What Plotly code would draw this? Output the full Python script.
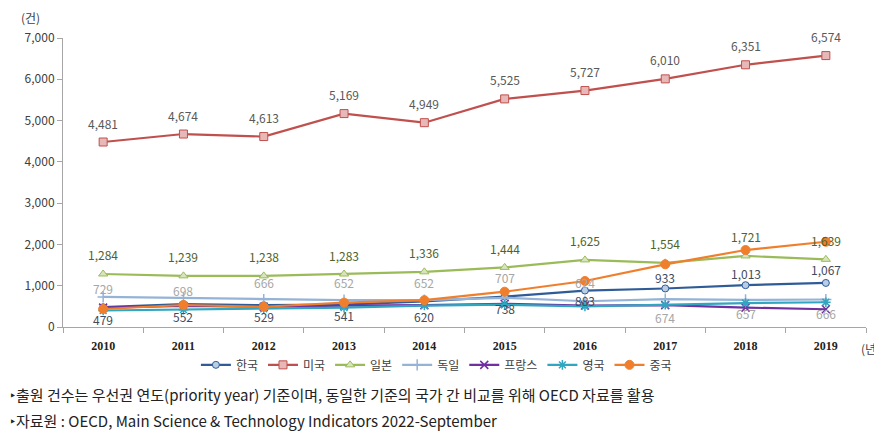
import plotly.graph_objects as go

years = ["2010", "2011", "2012", "2013", "2014", "2015", "2016", "2017", "2018", "2019"]
korea = [479, 552, 529, 541, 620, 738, 883, 933, 1013, 1067]
usa = [4481, 4674, 4613, 5169, 4949, 5525, 5727, 6010, 6351, 6574]
japan = [1284, 1239, 1238, 1283, 1336, 1444, 1625, 1554, 1721, 1639]
germany = [729, 698, 666, 652, 652, 707, 624, 674, 657, 666]
france = [470, 510, 490, 520, 530, 560, 520, 530, 470, 430]
uk = [400, 420, 440, 470, 520, 540, 500, 540, 580, 600]
china = [436, 533, 490, 590, 650, 855, 1114, 1518, 1864, 2065]
names = ["한국", "미국", "일본", "독일", "프랑스", "영국", "중국"]

FONT = "Noto Sans CJK KR"

fig = go.Figure()

def add(name, vals, color, symbol, mfill, msize, mline=1, lw=2.2):
    fig.add_trace(go.Scatter(
        x=years, y=vals, name=name, mode="lines+markers",
        line=dict(color=color, width=lw),
        marker=dict(symbol=symbol, size=msize, color=mfill,
                    line=dict(color=color, width=mline)),
    ))

add(names[0], korea, "#2F5C97", "circle", "#B9CDE5", 7)
add(names[1], usa, "#C0504D", "square", "#E6B9B8", 8)
add(names[2], japan, "#9BBB59", "triangle-up", "#D7E4BD", 8)
add(names[3], germany, "#95B3D7", "cross-thin", "#95B3D7", 8, mline=1.5)
add(names[4], france, "#7030A0", "x-thin", "#7030A0", 8, mline=1.5)
add(names[5], uk, "#31A6C0", "asterisk", "#31A6C0", 8, mline=1.5)
add(names[6], china, "#F07F2D", "circle", "#F07F2D", 9)

ann = []
def labels(vals, shifts, color):
    for i, (v, s) in enumerate(zip(vals, shifts)):
        ann.append(dict(x=i, y=v, xref="x", yref="y", text=f"{v:,}", showarrow=False, yshift=s,
                        font=dict(family=FONT, size=12, color=color)))

labels(usa, [19] * 10, "#595959")
labels(japan, [19] * 10, "#4F6228")
labels(korea, [-12, -12, -11, -11, -15, -12, -10, 11, 12, 13], "#3F4B5B")
labels(germany, [8, 8, 17, 18, 18, 20, 19, -18, -14, -14], "#A6A6A6")

ann.append(dict(xref="paper", yref="paper", x=-0.041, y=1.07, xanchor="center", yanchor="middle",
                text="(건)", showarrow=False, font=dict(family=FONT, size=12, color="#404040")))
ann.append(dict(xref="paper", yref="paper", x=1.02, y=-0.073, xanchor="right", yanchor="middle",
                text="(년)", showarrow=False, font=dict(family=FONT, size=12, color="#404040")))
ann.append(dict(xref="paper", yref="paper", x=-0.0685, y=-0.235, xanchor="left", yanchor="middle",
                text="‣출원 건수는 우선권 연도(priority year) 기준이며, 동일한 기준의 국가 간 비교를 위해 OECD 자료를 활용",
                showarrow=False, font=dict(family=FONT, size=15, color="#222222")))
ann.append(dict(xref="paper", yref="paper", x=-0.0685, y=-0.325, xanchor="left", yanchor="middle",
                text="‣자료원 : OECD, Main Science & Technology Indicators 2022-September",
                showarrow=False, font=dict(family=FONT, size=15, color="#222222")))

# page body has an 8px margin: figure is offset by 8px, so size/margins compensate
fig.update_layout(
    width=874, height=440,
    margin=dict(l=55, r=16, t=30, b=121),
    plot_bgcolor="white", paper_bgcolor="white",
    font=dict(family=FONT, size=11, color="#404040"),
    showlegend=True,
    legend=dict(orientation="h", x=0.465, xanchor="center", y=-0.131, yanchor="middle",
                font=dict(family=FONT, size=12, color="#404040"),
                itemwidth=30, tracegroupgap=0),
    annotations=ann,
    xaxis=dict(type="category", showline=True, linecolor="#A6A6A6", linewidth=1,
               ticks="outside", tickson="boundaries", ticklen=5, tickcolor="#A6A6A6",
               showgrid=False, zeroline=False, ticklabelstandoff=8,
               tickfont=dict(family="Liberation Serif", size=12, color="#222222", weight="bold"),
               range=[-0.5, 9.5]),
    yaxis=dict(range=[0, 7000], dtick=1000, tickformat=",d", showline=True,
               linecolor="#A6A6A6", linewidth=1, ticks="outside", ticklen=5,
               tickcolor="#A6A6A6", showgrid=False, zeroline=False,
               tickfont=dict(family=FONT, size=12, color="#404040")),
)

fig.write_html("out.html")
